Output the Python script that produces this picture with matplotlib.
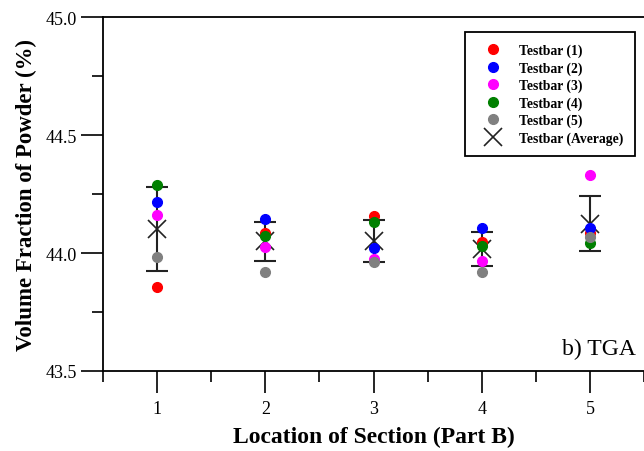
import matplotlib.pyplot as plt
from matplotlib.ticker import MultipleLocator

plt.rcParams['font.family'] = ['Liberation Serif', 'DejaVu Serif']

# section locations
sections = [1, 2, 3, 4, 5]

# volume fraction per testbar
testbar1 = [43.856, 44.085, 44.155, 44.045, 44.085]
testbar2 = [44.216, 44.144, 44.020, 44.106, 44.105]
testbar3 = [44.161, 44.025, 43.975, 43.965, 44.332]
testbar4 = [44.288, 44.072, 44.130, 44.031, 44.042]
testbar5 = [43.983, 43.920, 43.960, 43.921, 44.067]
average = [44.102, 44.050, 44.050, 44.015, 44.125]
err = [0.178, 0.083, 0.089, 0.072, 0.118]

series = [
    (testbar1, 'red', 'Testbar (1)'),
    (testbar2, 'blue', 'Testbar (2)'),
    (testbar3, 'magenta', 'Testbar (3)'),
    (testbar4, 'green', 'Testbar (4)'),
    (testbar5, 'gray', 'Testbar (5)'),
]

fig = plt.figure(figsize=(6.44, 4.52), dpi=100)
ax = fig.add_axes([0.16, 0.177, 0.84, 0.783])

ax.errorbar(sections, average, yerr=err, fmt='none', ecolor='#222222',
            elinewidth=1.5, capsize=8, capthick=1.5, zorder=1)

for vals, col, lab in series:
    ax.plot(sections, vals, 'o', color=col, markersize=7, label=lab, zorder=3)

ax.plot(sections, average, 'x', color='#222222', markersize=13, mew=1.2,
        label='Testbar (Average)', zorder=2)

ax.set_xlim(0.5, 5.5)
ax.set_ylim(43.5, 45.0)
ax.xaxis.set_major_locator(MultipleLocator(1))
ax.xaxis.set_minor_locator(MultipleLocator(0.5))
ax.yaxis.set_major_locator(MultipleLocator(0.5))
ax.yaxis.set_minor_locator(MultipleLocator(0.25))
ax.yaxis.set_major_formatter(plt.FormatStrFormatter('%.1f'))
ax.tick_params(which='major', direction='out', length=16, width=1.2,
               labelsize=13, pad=3)
ax.tick_params(which='minor', direction='out', length=8, width=1.2)
ax.tick_params(axis='x', pad=5)

ax.spines['right'].set_visible(False)
for s in ['left', 'top', 'bottom']:
    ax.spines[s].set_linewidth(1.3)

ax.set_xlabel('Location of Section (Part B)', fontsize=17, fontweight='bold',
              labelpad=6)
ax.set_ylabel('Volume Fraction of Powder (%)', fontsize=16.5, fontweight='bold',
              labelpad=6)

ax.text(0.985, 0.035, 'b) TGA', transform=ax.transAxes, ha='right', va='bottom',
        fontsize=17)

leg = ax.legend(loc='upper left', bbox_to_anchor=(0.67, 0.958),
                prop={'weight': 'bold', 'size': 9.8}, fancybox=False,
                edgecolor='black', framealpha=1, borderpad=0.85,
                labelspacing=0.3, handlelength=2.4, handletextpad=0.7,
                borderaxespad=0)
leg.get_frame().set_linewidth(1.3)

plt.savefig('out.png', dpi=100)
